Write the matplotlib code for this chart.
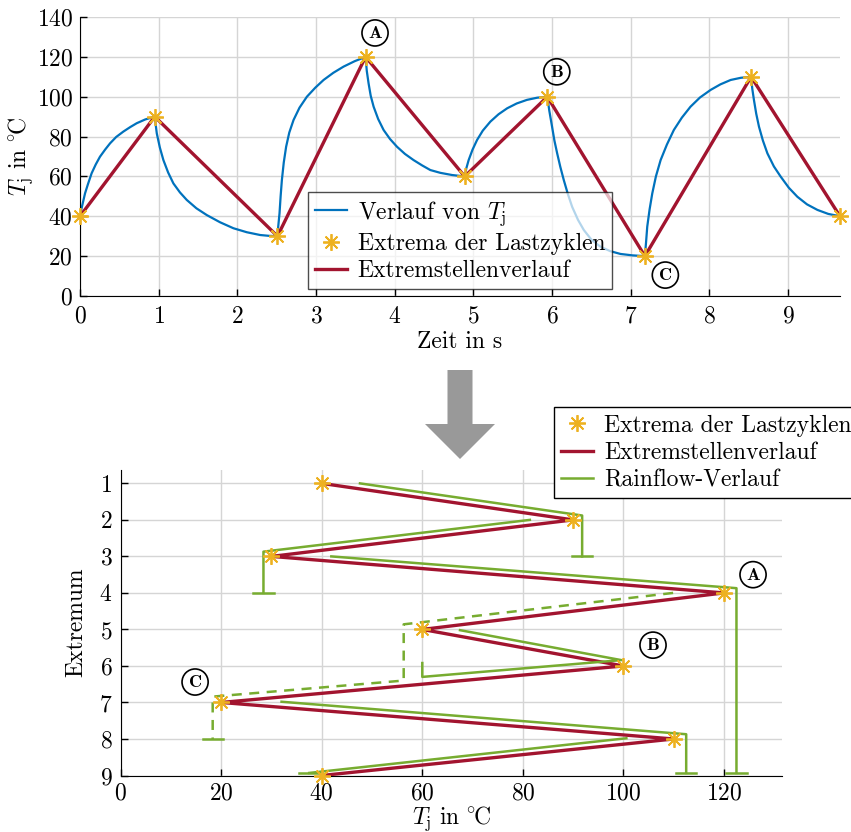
import numpy as np
import matplotlib
matplotlib.use("Agg")
import matplotlib.pyplot as plt
from matplotlib.patches import FancyArrow

plt.rcParams['font.family'] = ['cmr10', 'DejaVu Serif']
plt.rcParams['mathtext.fontset'] = 'cm'
plt.rcParams['axes.unicode_minus'] = False
plt.rcParams['axes.formatter.use_mathtext'] = True
plt.rcParams['font.size'] = 17

# colours (MATLAB default palette)
c_blue = '#0072BD'
c_red = '#A2142F'
c_yel = '#EDB120'
c_green = '#77AC30'

# ---- data: top plot ----
t_ext = [0, 0.95, 2.51, 3.63, 4.89, 5.94, 7.18, 8.53, 9.66]
T_ext = [40, 90, 30, 120, 60, 100, 20, 110, 40]

# temperature curve
t_verlauf = [0, 0.02, 0.064, 0.1, 0.148, 0.2, 0.254, 0.32, 0.382, 0.46, 0.551, 0.64, 0.721, 0.83, 0.95,
             0.962, 0.976, 1.015, 1.06, 1.12, 1.187, 1.27, 1.357, 1.48, 1.612, 1.78, 1.95, 2.12, 2.29, 2.4, 2.51,
             2.52, 2.536, 2.55, 2.566, 2.59, 2.62, 2.66, 2.714, 2.79, 2.884, 2.99, 3.096, 3.22, 3.35, 3.49, 3.63,
             3.645, 3.668, 3.695, 3.732, 3.79, 3.859, 3.94, 4.029, 4.13, 4.24, 4.35, 4.453, 4.58, 4.73, 4.89,
             4.91, 4.94, 4.99, 5.047, 5.12, 5.216, 5.32, 5.43, 5.55, 5.68, 5.81, 5.94,
             5.965, 6.0, 6.03, 6.065, 6.105, 6.149, 6.2, 6.255, 6.33, 6.404, 6.5, 6.616, 6.74, 6.87, 7.02, 7.18,
             7.195, 7.21, 7.24, 7.274, 7.32, 7.38, 7.46, 7.548, 7.65, 7.76, 7.88, 8.015, 8.14, 8.27, 8.4, 8.53,
             8.545, 8.566, 8.595, 8.63, 8.68, 8.737, 8.82, 8.906, 9.01, 9.118, 9.24, 9.373, 9.51, 9.66]
T_verlauf = [40, 44, 51.5, 56, 61.6, 66, 69.9, 73.5, 76.6, 79.8, 82.5, 84.8, 86.7, 88.6, 90,
             86, 81.6, 74.5, 68.2, 62, 56.5, 52, 48.2, 44, 40.6, 37, 34, 32, 30.6, 30.2, 30,
             35, 41.5, 50, 58.2, 67, 74.9, 82, 88.3, 94.5, 100, 104.5, 108.4, 112, 115.1, 117.8, 120,
             113, 106.7, 100.5, 95, 88.8, 83.3, 78.8, 74.9, 71.3, 68.2, 65.5, 63.2, 61.8, 60.7, 60,
             64, 68.2, 73.5, 78.3, 83, 87.5, 91.2, 94.2, 96.6, 98.4, 99.5, 100,
             93, 85, 78, 71.6, 64.8, 58.2, 51.3, 44.8, 38.2, 33.1, 28.3, 24.7, 22.5, 21.1, 20.4, 20,
             27, 34.8, 43.5, 51.5, 60, 68.2, 76, 83.3, 89.5, 95, 99.6, 103.4, 106.2, 108.4, 109.5, 110,
             104, 98.4, 91.5, 85, 78, 71.6, 65, 59.9, 54.3, 49.8, 46, 43.2, 41.2, 40]

# ---- data: bottom plot ----
extremum_nr = [1, 2, 3, 4, 5, 6, 7, 8, 9]

# rainflow paths (T, extremum)
rf1_x, rf1_y = [47.6, 91.8, 91.8], [1.0, 1.88, 3.0]
rf2_x, rf2_y = [81.4, 28.4, 28.4], [2.0, 2.87, 4.0]
rf3_x, rf3_y = [41.9, 122.5, 122.5], [3.0, 3.87, 8.93]
rf4_x, rf4_y = [109.9, 56.3, 56.3, 18.3, 18.3], [4.0, 4.86, 6.4, 6.84, 8.0]
rf5_x, rf5_y = [67.5, 99.6, 60.0, 60.0], [5.02, 5.84, 6.3, 5.92]
rf6_x, rf6_y = [32.0, 112.5, 112.5], [6.98, 7.87, 8.93]
rf7_x, rf7_y = [100.6, 37.5], [7.98, 8.93]
cap_x = [91.8, 28.4, 122.5, 18.3, 112.5, 37.5]
cap_y = [3.0, 4.0, 8.93, 8.0, 8.93, 8.93]
cap_half = 2.0

deg_label = r'$T_\mathrm{j}\ \mathrm{in}\ {}^{\circ}\!\mathrm{C}$'
mk = dict(linestyle='none', marker=(8, 2, 0), ms=12, mew=1.3, color=c_yel)

fig = plt.figure(figsize=(8.51, 8.32), dpi=100)

# ================= top plot =================
ax1 = fig.add_axes([80/851, 1-296/832, 760/851, 279/832])
ax1.plot(t_verlauf, T_verlauf, '-', color=c_blue, lw=1.6)
ax1.plot(t_ext, T_ext, '-', color=c_red, lw=2.4, zorder=3)
ax1.plot(t_ext, T_ext, zorder=4, clip_on=False, **mk)
h_blue, = ax1.plot([], [], '-', color=c_blue, lw=1.6)
h_ext, = ax1.plot([], [], **mk)
h_red, = ax1.plot([], [], '-', color=c_red, lw=2.4)
ax1.set_xlim(0, 9.66)
ax1.set_ylim(0, 140)
ax1.set_xticks(range(0, 10))
ax1.set_yticks(range(0, 141, 20))
ax1.grid(True, color='#d5d5d5', lw=1)
ax1.set_axisbelow(True)
for s in ['top', 'right']:
    ax1.spines[s].set_visible(False)
ax1.tick_params(direction='in', length=5, width=1)
ax1.tick_params(axis='x', pad=7)
ax1.tick_params(axis='y', pad=5)
ax1.set_xlabel('Zeit in s', labelpad=2)
ax1.set_ylabel(deg_label, labelpad=1)
leg1 = ax1.legend([h_blue, h_ext, h_red],
                  [r'Verlauf von $T_\mathrm{j}$', 'Extrema der Lastzyklen', 'Extremstellenverlauf'],
                  loc='lower left', bbox_to_anchor=(0.300, 0.024), borderaxespad=0,
                  fancybox=False, framealpha=0.7, edgecolor='black',
                  handlelength=1.35, handletextpad=0.45, labelspacing=0.22, borderpad=0.3)
leg1.get_frame().set_linewidth(1)
leg1.set_zorder(5)

circ = dict(boxstyle='circle,pad=0.28', fc='none', ec='black', lw=1.2)
ax1.text(3.75, 132, r'$\mathbf{A}$', fontsize=13, ha='center', va='center', bbox=circ)
ax1.text(6.06, 112.5, r'$\mathbf{B}$', fontsize=13, ha='center', va='center', bbox=circ)
ax1.text(7.44, 10.5, r'$\mathbf{C}$', fontsize=13, ha='center', va='center', bbox=circ)

# ================= arrow =================
arrow = FancyArrow(4.60, (832-370)/100, 0, -0.89, width=0.25, head_width=0.70,
                   head_length=0.35, length_includes_head=True,
                   transform=fig.dpi_scale_trans, color='#999999', lw=0)
fig.add_artist(arrow)

# ================= bottom plot =================
ax2 = fig.add_axes([120.7/851, 1-775.5/832, 661/851, 306/832])
ax2.plot(T_ext, extremum_nr, '-', color=c_red, lw=2.4, zorder=3)
for xs, ys in [(rf1_x, rf1_y), (rf2_x, rf2_y), (rf3_x, rf3_y),
               (rf5_x, rf5_y), (rf6_x, rf6_y), (rf7_x, rf7_y)]:
    ax2.plot(xs, ys, '-', color=c_green, lw=1.8, zorder=3, clip_on=False)
ax2.plot(rf4_x, rf4_y, '--', color=c_green, lw=1.8, zorder=3, dashes=(4, 3))
for cx, cy in zip(cap_x, cap_y):
    ax2.plot([cx - cap_half, cx + cap_half], [cy, cy], '-', color=c_green, lw=1.8, zorder=3)
ax2.plot(T_ext, extremum_nr, zorder=4, clip_on=False, **mk)
g_ext, = ax2.plot([], [], **mk)
g_red, = ax2.plot([], [], '-', color=c_red, lw=2.4)
g_green, = ax2.plot([], [], '-', color=c_green, lw=1.8)
ax2.set_xlim(0, 131.5)
ax2.set_ylim(9, 0.62)
ax2.set_xticks(range(0, 121, 20))
ax2.set_yticks(extremum_nr)
ax2.grid(True, color='#d5d5d5', lw=1)
ax2.set_axisbelow(True)
for s in ['top', 'right']:
    ax2.spines[s].set_visible(False)
ax2.tick_params(direction='in', length=5, width=1)
ax2.tick_params(axis='x', pad=5)
ax2.tick_params(axis='y', pad=6)
ax2.set_xlabel(deg_label, labelpad=0)
ax2.set_ylabel('Extremum', labelpad=8)
leg2 = fig.legend([g_ext, g_red, g_green],
                  ['Extrema der Lastzyklen', 'Extremstellenverlauf', 'Rainflow-Verlauf'],
                  loc='upper left', bbox_to_anchor=(554.3/851, 1-407.3/832), borderaxespad=0,
                  fancybox=False, framealpha=1, edgecolor='black',
                  handlelength=1.35, handletextpad=0.45, labelspacing=0.22, borderpad=0.3)
leg2.get_frame().set_linewidth(1)

ax2.text(125.8, 3.5, r'$\mathbf{A}$', fontsize=13, ha='center', va='center', bbox=circ)
ax2.text(105.9, 5.43, r'$\mathbf{B}$', fontsize=13, ha='center', va='center', bbox=circ)
ax2.text(14.8, 6.44, r'$\mathbf{C}$', fontsize=13, ha='center', va='center', bbox=circ)

fig.savefig('out.png', dpi=100)
